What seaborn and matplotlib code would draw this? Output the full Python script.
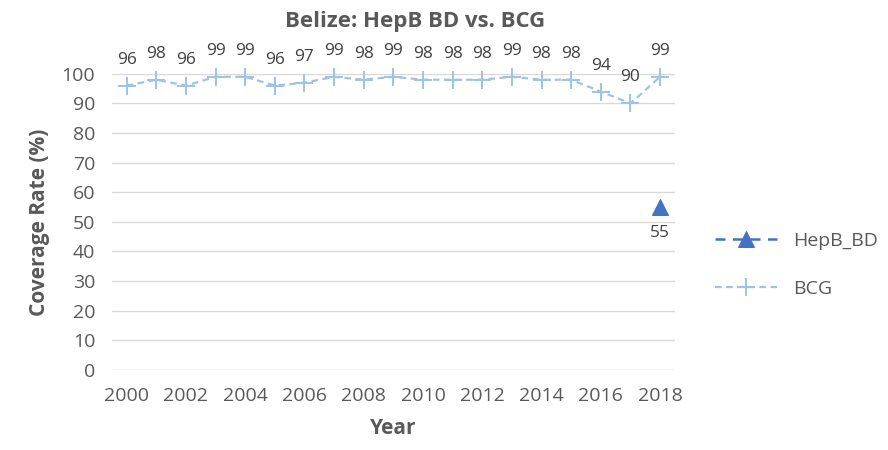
import numpy as np
import pandas as pd
import matplotlib
matplotlib.use("Agg")
import matplotlib.pyplot as plt
import seaborn as sns

# Data
years = list(range(2000, 2019))
bcg = [96, 98, 96, 99, 99, 96, 97, 99, 98, 99, 98, 98, 98, 99, 98, 98, 94, 90, 99]
hepb_bd = [np.nan] * 18 + [55]

df = pd.DataFrame({'Year': years, 'HepB_BD': hepb_bd, 'BCG': bcg})
df['idx'] = range(len(years))

sns.set_theme(style='white')
plt.rcParams['font.family'] = ['Open Sans', 'DejaVu Sans']
gray = '#595959'
c_hep = '#4472C4'
c_bcg = '#9DC3E6'

fig = plt.figure(figsize=(8.88, 4.5), dpi=100)
ax = fig.add_axes([0.126, 0.178, 0.634, 0.658])

sns.lineplot(data=df, x='idx', y='HepB_BD', ax=ax, color=c_hep, marker='^',
             markersize=11, markeredgecolor=c_hep, linestyle=(0, (4, 3)),
             linewidth=1.8, label='HepB_BD', clip_on=False)
sns.lineplot(data=df, x='idx', y='BCG', ax=ax, color=c_bcg, marker='+',
             markersize=13, markeredgewidth=1.4, markeredgecolor=c_bcg,
             linestyle=(0, (3, 2)), linewidth=1.6, label='BCG', clip_on=False)

for i, v in enumerate(bcg):
    ax.annotate(str(v), (i, v), xytext=(0, 13), textcoords='offset points',
                ha='center', va='bottom', fontsize=12.5, color='#404040')
ax.annotate('55', (18, 55), xytext=(0, -13), textcoords='offset points',
            ha='center', va='top', fontsize=12.5, color='#404040')

ax.set_ylim(0, 100)
ax.set_xlim(-0.5, len(years) - 0.5)
ax.set_yticks(range(0, 101, 10))
ax.set_xticks(range(0, len(years), 2))
ax.set_xticklabels([str(y) for y in years[::2]])
ax.tick_params(axis='both', labelsize=14, colors=gray, length=0)
ax.tick_params(axis='x', pad=12)
ax.tick_params(axis='y', pad=12)
ax.grid(axis='y', color='#d9d9d9', linewidth=1)
ax.set_axisbelow(True)
for s in ax.spines.values():
    s.set_visible(False)
ax.axhline(0, color='#d9d9d9', linewidth=1)

ax.set_xlabel('Year', fontsize=15, fontweight='bold', color=gray, labelpad=10)
ax.set_ylabel('Coverage Rate (%)', fontsize=15, fontweight='bold', color=gray, labelpad=8)
fig.text(0.467, 0.952, 'Belize: HepB BD vs. BCG', ha='center', va='center',
         fontsize=16, fontweight='bold', color=gray)

leg = ax.legend(loc='center left', bbox_to_anchor=(1.04, 0.355), frameon=False,
                fontsize=14, handlelength=3.2, labelspacing=1.55)
for t in leg.get_texts():
    t.set_color(gray)

fig.savefig('out.png', dpi=100)
